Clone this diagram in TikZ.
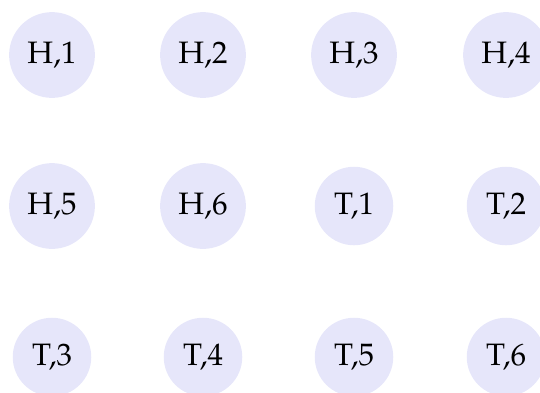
\documentclass[tikz,border=0pt]{standalone}
\usepackage[T1]{fontenc}
\usepackage{mathpazo}
\definecolor{lav}{HTML}{E6E6FA}
\begin{document}
\begin{tikzpicture}[x=1pt,y=1pt,
  coin/.style={circle,fill=lav,inner sep=11pt,font=\fontencoding{T1}\fontfamily{pplx}\fontsize{31}{37}\selectfont}]
\useasboundingbox (0,0) rectangle (540,-392);
\clip (0,0) rectangle (540,-392);
\node[coin] (h1) at (52,-55) {H,1};
\node[coin] (h2) at (203,-55) {H,2};
\node[coin] (h3) at (354,-55) {H,3};
\node[coin] (h4) at (506,-55) {H,4};
\node[coin] (h5) at (52,-206) {H,5};
\node[coin] (h6) at (203,-206) {H,6};
\node[coin] (t1) at (354,-206) {T,1};
\node[coin] (t2) at (506,-206) {T,2};
\node[coin] (t3) at (52,-357) {T,3};
\node[coin] (t4) at (203,-357) {T,4};
\node[coin] (t5) at (354,-357) {T,5};
\node[coin] (t6) at (506,-357) {T,6};
\end{tikzpicture}
\end{document}
